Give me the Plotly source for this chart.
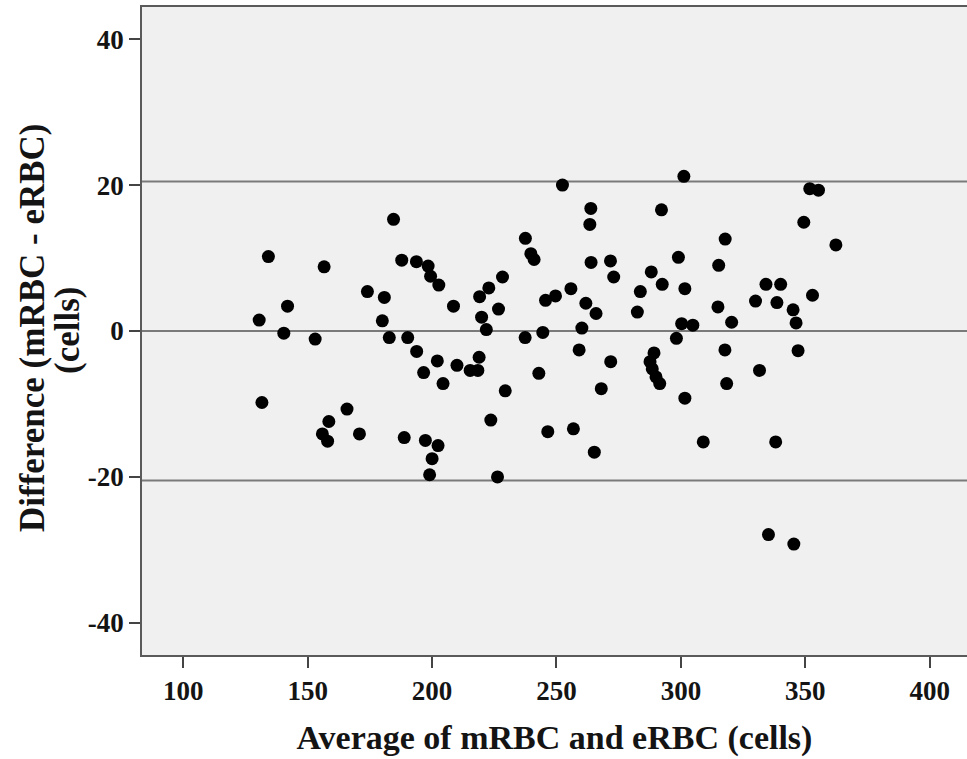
import plotly.graph_objects as go

# Average of mRBC and eRBC (cells)
avg_cells = [
    184.5, 134.2, 156.6, 187.8, 193.7, 174.0, 180.8, 141.9, 130.5, 180.0,
    140.4, 153.0, 182.8, 190.2, 193.8, 196.6, 131.6, 165.8, 158.5, 155.9,
    158.0, 170.8, 188.8, 197.3,
    252.4, 301.2, 263.8, 263.4, 292.2, 237.5, 239.7, 241.0, 198.4, 199.4,
    202.7, 263.9, 271.7, 273.0, 299.0, 288.1, 292.5, 301.6, 283.7, 228.3,
    222.8, 219.1, 208.6, 226.7, 219.9, 221.8, 245.6, 249.6, 255.8, 261.8,
    265.9, 282.5, 260.2, 300.3, 304.8, 244.5, 237.4, 298.2, 259.1, 289.2,
    202.1, 210.0, 218.9, 215.3, 218.4, 204.4, 242.9, 271.8, 287.6, 288.5,
    290.0, 291.5, 229.4, 268.0, 301.6, 223.6, 202.4, 200.0, 199.0, 226.3,
    246.5, 256.8, 265.2, 309.0,
    351.8, 355.3, 349.4, 362.3, 317.8, 315.2, 334.2, 340.1, 330.0, 338.6,
    352.9, 314.9, 345.1, 320.4, 346.3, 317.7, 347.1, 331.6, 318.4, 338.1,
    335.2, 345.4,
]

# Difference (mRBC - eRBC) (cells)
diff_cells = [
    15.3, 10.2, 8.8, 9.7, 9.5, 5.4, 4.6, 3.4, 1.5, 1.4,
    -0.3, -1.1, -0.9, -0.9, -2.8, -5.7, -9.8, -10.7, -12.4, -14.1,
    -15.1, -14.1, -14.6, -15.0,
    20.0, 21.2, 16.8, 14.6, 16.6, 12.7, 10.6, 9.8, 8.9, 7.5,
    6.3, 9.4, 9.6, 7.4, 10.1, 8.1, 6.4, 5.8, 5.4, 7.4,
    5.9, 4.7, 3.4, 3.0, 1.9, 0.2, 4.2, 4.8, 5.8, 3.8,
    2.4, 2.6, 0.4, 1.0, 0.8, -0.2, -0.9, -1.0, -2.6, -3.0,
    -4.1, -4.7, -3.6, -5.4, -5.4, -7.2, -5.8, -4.2, -4.2, -5.2,
    -6.3, -7.2, -8.2, -7.9, -9.2, -12.2, -15.7, -17.5, -19.7, -20.0,
    -13.8, -13.4, -16.6, -15.2,
    19.5, 19.3, 14.9, 11.8, 12.6, 9.0, 6.4, 6.4, 4.1, 3.9,
    4.9, 3.3, 2.9, 1.2, 1.1, -2.6, -2.7, -5.4, -7.2, -15.2,
    -27.9, -29.2,
]

# Reference lines: mean difference and limits of agreement
mean_diff = 0.0
upper_loa = 20.5
lower_loa = -20.5

x_ticks = [100, 150, 200, 250, 300, 350, 400]
y_ticks = [-40, -20, 0, 20, 40]

x_title = "Average of mRBC and eRBC (cells)"
y_title_lines = ["Difference (mRBC - eRBC)", "(cells)"]

FONT = "Liberation Serif"
TEXT = "#141414"

fig = go.Figure()

for yv in [upper_loa, mean_diff, lower_loa]:
    fig.add_shape(type="line", xref="paper", yref="y", x0=0, x1=1, y0=yv, y1=yv,
                  line=dict(color="#7a7a7a", width=2), layer="below")

fig.add_trace(go.Scatter(
    x=avg_cells, y=diff_cells, mode="markers",
    marker=dict(size=13, color="#000000", line=dict(width=0)),
    showlegend=False, hoverinfo="x+y",
))

# Rotated y-axis title, two centred lines
for text, xs, ys in [(y_title_lines[0], -110, 3), (y_title_lines[1], -75, 0)]:
    fig.add_annotation(
        text=text, xref="paper", yref="paper", x=0, y=0.5,
        xanchor="center", yanchor="middle", xshift=xs, yshift=ys,
        textangle=-90, showarrow=False,
        font=dict(family=FONT, size=35, weight="bold", color=TEXT),
    )

fig.update_layout(
    width=967, height=759,
    margin=dict(l=142, r=0, t=7, b=104),
    paper_bgcolor="white", plot_bgcolor="#f0f0f0",
    font=dict(family=FONT, color=TEXT),
)

fig.update_xaxes(
    range=[83.4, 415.0], tickvals=x_ticks, ticktext=[str(v) for v in x_ticks],
    showgrid=False, zeroline=False,
    showline=True, linecolor="#5a5a5a", linewidth=1.5, mirror=True,
    ticks="outside", ticklen=11, tickwidth=1.5, tickcolor="#444444",
    tickfont=dict(family=FONT, size=27, weight="bold", color=TEXT),
    title=dict(text=x_title,
               font=dict(family=FONT, size=34, weight="bold", color=TEXT),
               standoff=20),
)

fig.update_yaxes(
    range=[-44.4, 44.4], tickvals=y_ticks, ticktext=[str(v) for v in y_ticks],
    showgrid=False, zeroline=False,
    showline=True, linecolor="#5a5a5a", linewidth=1.5, mirror=False,
    ticks="outside", ticklen=11, tickwidth=1.5, tickcolor="#444444",
    tickfont=dict(family=FONT, size=27, weight="bold", color=TEXT),
)

fig.write_html("out.html", config={"displayModeBar": False},
               post_script="document.body.style.margin='0';")
